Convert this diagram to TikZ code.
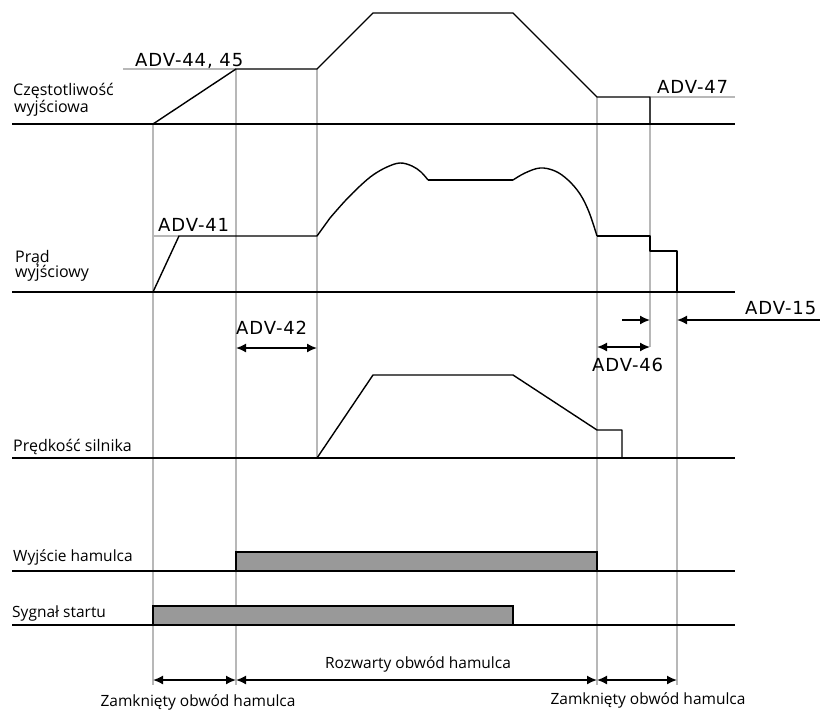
\documentclass[tikz,border=0pt]{standalone}
\usepackage{fontspec}
\usetikzlibrary{arrows.meta}
\newfontfamily\advfont[LetterSpace=5]{DejaVu Sans}
\newfontfamily\plfont{Open Sans}
\begin{document}
\begin{tikzpicture}[x=1pt,y=-1pt,
  sig/.style={line width=1.4pt, line join=round},
  baseln/.style={line width=1.8pt},
  guide/.style={draw=black!28, line width=1.3pt},
  reff/.style={draw=black!28, line width=1.3pt},
  adv/.style={font=\advfont\fontsize{18}{20}\selectfont, inner sep=0pt, anchor=base west},
  pl/.style={font=\plfont\fontsize{16}{18}\selectfont, inner sep=0pt, anchor=base west},
  plb/.style={font=\plfont\fontsize{15.5}{18}\selectfont, inner sep=0pt, anchor=base},
  dbl/.style={line width=1.6pt, {Latex[length=10pt,width=9pt]}-{Latex[length=10pt,width=9pt]}},
  sgl/.style={line width=1.6pt, -{Latex[length=10pt,width=9pt]}},
  bar/.style={draw=black, line width=1.4pt, fill=black!40}]
\useasboundingbox (0,0) rectangle (820,712);
% guide lines
\coordinate (g0t) at (153,124); \coordinate (g0b) at (153,685);
\coordinate (g1t) at (236,69);  \coordinate (g1b) at (236,685);
\coordinate (g2t) at (317,69);  \coordinate (g2b) at (317,458);
\coordinate (g5t) at (597,97);  \coordinate (g5b) at (597,685);
\coordinate (g7t) at (650,97);  \coordinate (g7b) at (650,347);
\coordinate (g8t) at (677,251); \coordinate (g8b) at (677,685);
\foreach \a in {0,1,2,5,7,8} \draw[guide] (g\a t) -- (g\a b);
% reference lines
\coordinate (r44a) at (123,69); \draw[reff] (r44a) -- (g1t);
\coordinate (r47a) at (650,97); \coordinate (r47b) at (735,97); \draw[reff] (r47a) -- (r47b);
\coordinate (r41a) at (153,236); \coordinate (r41b) at (179,236); \draw[reff] (r41a) -- (r41b);
% baselines
\foreach \y/\n in {124/F,292/C,458/S,571/B,625/T} {
  \coordinate (L\n) at (12,\y); \coordinate (R\n) at (735,\y);
  \draw[baseln] (L\n) -- (R\n);
}
% output frequency
\draw[sig] (153,124) -- (236,69) -- (317,69) -- (373,13) -- (513,13) -- (597,97) -- (650,97) -- (650,124);
% output current
\draw[sig] (153,292) -- (179,236) -- (317,236) -- (330,218);
\draw[sig] plot[smooth, tension=0.6] coordinates {(330,218) (345,201) (360,186) (373,175) (387,167) (400,163) (412,166) (421,172) (428,180)};
\draw[sig] (428,180) -- (513,180);
\draw[sig] plot[smooth, tension=0.6] coordinates {(513,180) (525,173) (540,168) (555,171) (568,180) (580,194) (589,212) (597,236)};
\draw[sig] (597,236) -- (650,236) -- (650,251) -- (677,251) -- (677,292);
% motor speed
\draw[sig] (317,458) -- (373,375) -- (513,375) -- (597,430) -- (622,430) -- (622,458);
% brake output & start signal
\draw[bar] (236,571) rectangle (597,552);
\draw[bar] (153,625) rectangle (513,606);
% labels
\node[pl] (lf1) at (13,95) {Częstotliwość};
\node[pl] (lf2) at (14,112) {wyjściowa};
\node[pl] (lc1) at (15,262) {Prąd};
\node[pl] (lc2) at (15,277) {wyjściowy};
\node[pl] (ls) at (13,451) {Prędkość silnika};
\node[pl, font=\plfont\fontsize{15.5}{18}\selectfont] (lb) at (13,561) {Wyjście hamulca};
\node[pl, font=\plfont\fontsize{15.5}{18}\selectfont] (lt) at (12,617) {Sygnał startu};
\node[adv] (a44) at (135,66) {ADV-44, 45};
\node[adv] (a47) at (657,93) {ADV-47};
\node[adv] (a41) at (158,231) {ADV-41};
\node[adv] (a42) at (236,334) {ADV-42};
\node[adv] (a46) at (592,371) {ADV-46};
\node[adv] (a15) at (745,314) {ADV-15};
% arrows
\coordinate (a42l) at (236,348); \coordinate (a42r) at (317,348);
\draw[dbl] (a42l) -- (a42r);
\coordinate (a46l) at (597,347); \coordinate (a46r) at (650,347);
\draw[dbl] (a46l) -- (a46r);
\coordinate (a46s) at (622,320); \coordinate (a46e) at (650,320);
\draw[sgl] (a46s) -- (a46e);
\coordinate (a15s) at (820,320); \coordinate (a15e) at (677,320);
\draw[sgl] (a15s) -- (a15e);
\coordinate (b0) at (153,680); \coordinate (b1) at (236,680);
\coordinate (b2) at (597,680); \coordinate (b3) at (677,680);
\draw[dbl] (b0) -- (b1);
\draw[dbl] (b1) -- (b2);
\draw[dbl] (b2) -- (b3);
\node[plb] (roz) at (418,668) {Rozwarty obwód hamulca};
\node[plb] (zam1) at (198,706) {Zamknięty obwód hamulca};
\node[plb] (zam2) at (648,704) {Zamknięty obwód hamulca};
\end{tikzpicture}
\end{document}
